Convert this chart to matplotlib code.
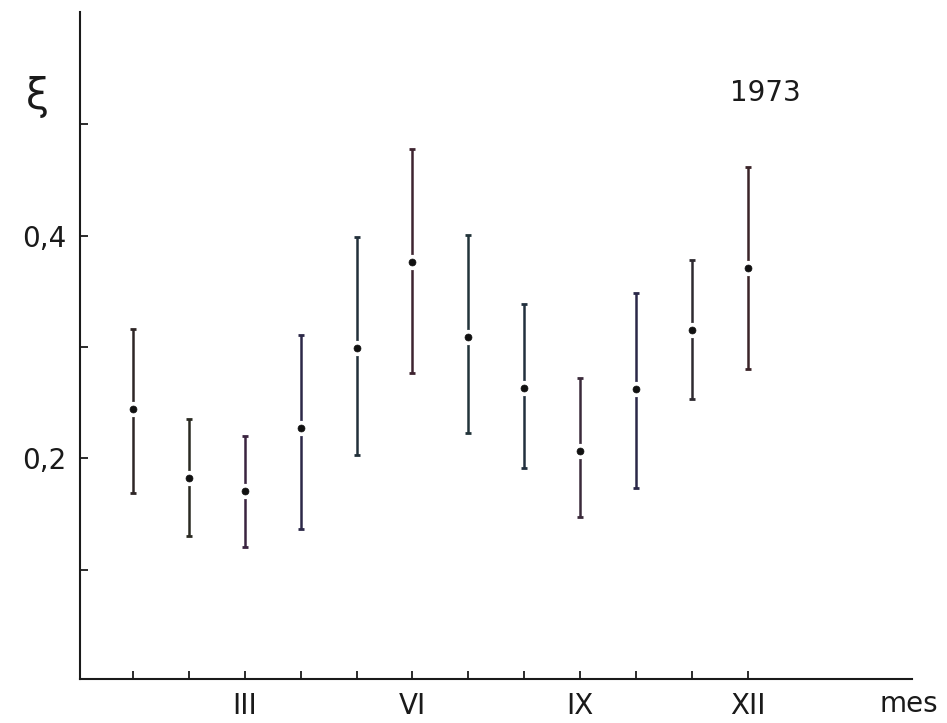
import matplotlib
matplotlib.use("Agg")
import matplotlib.pyplot as plt
import numpy as np

# Data
months = list(range(1, 13))
xi_mean = [0.244, 0.182, 0.171, 0.227, 0.299, 0.376, 0.309, 0.263, 0.207, 0.262, 0.315, 0.371]
xi_upper = [0.316, 0.235, 0.220, 0.311, 0.399, 0.478, 0.401, 0.339, 0.272, 0.349, 0.378, 0.462]
xi_lower = [0.169, 0.130, 0.120, 0.137, 0.203, 0.277, 0.223, 0.191, 0.147, 0.173, 0.253, 0.280]
xtick_pos = [3, 6, 9, 12]
xtick_labels = ["III", "VI", "IX", "XII"]
ytick_pos = [0.1, 0.2, 0.3, 0.4, 0.5]
ytick_labels = ["", "0,2", "", "0,4", ""]

bar_colors = ["#2e2626", "#2a2a22", "#3a2440", "#2c2848", "#22303a", "#3e2430",
              "#22343a", "#22303e", "#3a2a3a", "#2a2848", "#2e2a30", "#3a2428"]

fig = plt.figure(figsize=(9.47, 7.23), dpi=100)
ax = fig.add_axes([80 / 947, 1 - 679 / 723, (912 - 80) / 947, (679 - 12) / 723])

means = np.array(xi_mean)
up = np.array(xi_upper) - means
lo = means - np.array(xi_lower)

for i, m in enumerate(months):
    ax.errorbar([m], [means[i]], yerr=[[lo[i]], [up[i]]], fmt='none',
                ecolor=bar_colors[i], elinewidth=1.8, capsize=2.5, capthick=2.0, zorder=2)
ax.plot(months, xi_mean, linestyle='none', marker='o', markersize=5,
        markerfacecolor='#111111', markeredgecolor='white', markeredgewidth=6, zorder=3)
ax.plot(months, xi_mean, linestyle='none', marker='o', markersize=5,
        markerfacecolor='#111111', markeredgecolor='#111111', markeredgewidth=0.5, zorder=4)

ax.set_xlim(0.05, 14.94)
ax.set_ylim(0.0018, 0.601)

for s in ['top', 'right']:
    ax.spines[s].set_visible(False)
for s in ['left', 'bottom']:
    ax.spines[s].set_linewidth(1.5)
    ax.spines[s].set_color('#1a1a1a')

ax.set_xticks(months)
ax.set_xticklabels([xtick_labels[xtick_pos.index(m)] if m in xtick_pos else "" for m in months])
ax.set_yticks(ytick_pos)
ax.set_yticklabels(ytick_labels)
ax.tick_params(axis='both', direction='in', length=6, width=1.3, color='#1a1a1a',
               labelsize=20, labelcolor='#1a1a1a')
ax.tick_params(axis='x', pad=9)
ax.tick_params(axis='y', pad=10)

fig.text(37 / 947, 1 - 97 / 723, "ξ", fontsize=30, ha='center', va='center', color='#1a1a1a')
fig.text(765 / 947, 1 - 93 / 723, "1973", fontsize=20, ha='center', va='center', color='#1a1a1a')
fig.text(909 / 947, 1 - 704 / 723, "mes", fontsize=20, ha='center', va='center', color='#1a1a1a')

fig.savefig("out.png", dpi=100)
